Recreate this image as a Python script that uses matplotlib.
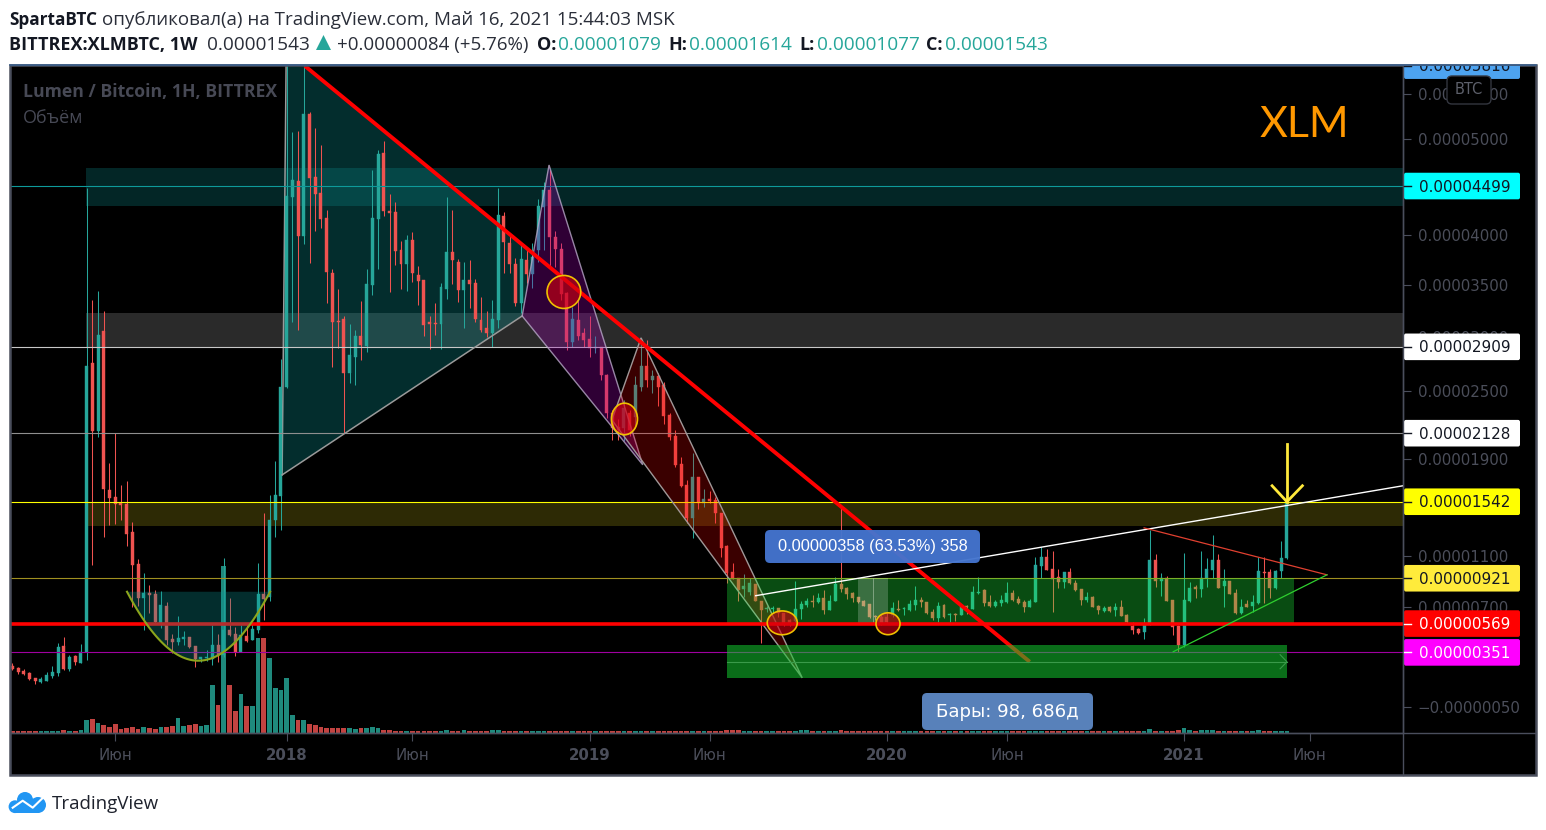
import numpy as np
import matplotlib
matplotlib.use("Agg")
import matplotlib.pyplot as plt
from matplotlib.patches import Polygon, Rectangle, Ellipse, FancyBboxPatch, Circle

# weekly candles, prices in satoshi (1e-8 BTC)
opens = [
    252, 236, 214, 199, 162, 132, 140, 177, 199, 401,
    229, 326, 274, 356, 2760, 2148, 3059, 1642, 1583, 1533,
    1525, 1294, 1036, 768, 807, 800, 575, 706, 454, 431,
    454, 469, 401, 304, 311, 304, 408, 334, 522, 491,
    356, 476, 446, 522, 800, 776, 1392, 1592, 2541, 4385,
    4552, 3985, 5274, 4594, 4427, 4168, 3617, 3152, 3172, 2668,
    2815, 3012, 2918, 3499, 4158, 4849, 4241, 4230, 3845, 3705,
    3945, 3597, 3548, 3143, 3133, 3124, 3461, 3825, 3725, 3451,
    3548, 3519, 3162, 3087, 3040, 3162, 4189, 3915, 3705, 3325,
    3745, 3607, 3845, 4282, 4458, 3975, 3855, 3422, 2955, 3162,
    3040, 2983, 2899, 2908, 2650, 2307, 2184, 2175, 2307, 2272,
    2541, 2733, 2604, 2641, 2559, 2289, 2105, 1862, 1684, 1409,
    1751, 1533, 1566, 1558, 1450, 1180, 972, 925, 839, 815,
    878, 745, 683, 683, 690, 652, 598, 590, 683, 714,
    745, 737, 768, 675, 745, 878, 846, 807, 776, 745,
    722, 629, 621, 621, 637, 683, 683, 675, 714, 753,
    737, 660, 613, 714, 637, 644, 637, 706, 683, 807,
    831, 737, 706, 730, 737, 807, 761, 737, 698, 737,
    1020, 1092, 996, 933, 893, 972, 885, 839, 753, 776,
    706, 667, 698, 675, 698, 637, 552, 530, 507, 575,
    1068, 901, 925, 753, 552, 408, 745, 854, 839, 925,
    988, 1068, 862, 901, 807, 652, 722, 706, 730, 972,
    972, 846, 980, 1079,
]
closes = [
    229, 207, 192, 155, 140, 155, 185, 207, 393, 229,
    319, 281, 356, 2733, 2148, 3021, 1650, 1575, 1525, 1517,
    1278, 1028, 768, 807, 792, 583, 714, 446, 431, 461,
    469, 393, 304, 319, 319, 408, 334, 522, 484, 356,
    484, 438, 530, 800, 761, 1392, 1600, 2541, 4395, 4562,
    3985, 5274, 4583, 4416, 4158, 3626, 3143, 3143, 2668, 2834,
    3012, 2927, 3509, 4168, 4838, 4241, 4220, 3835, 3705, 3945,
    3617, 3538, 3115, 3124, 3124, 3480, 3825, 3745, 3451, 3548,
    3509, 3172, 3068, 3040, 3172, 4199, 3925, 3705, 3325, 3755,
    3607, 3775, 4292, 4458, 3975, 3855, 3412, 2955, 3172, 3012,
    2974, 2899, 2908, 2650, 2307, 2175, 2157, 2352, 2157, 2559,
    2733, 2604, 2641, 2541, 2280, 2096, 1854, 1676, 1409, 1751,
    1533, 1566, 1550, 1450, 1164, 964, 917, 831, 862, 885,
    745, 675, 690, 690, 652, 575, 575, 683, 722, 745,
    737, 768, 675, 745, 878, 839, 800, 768, 737, 706,
    621, 621, 575, 583, 690, 675, 690, 722, 753, 737,
    652, 613, 706, 621, 644, 637, 706, 698, 815, 815,
    730, 706, 737, 753, 807, 753, 730, 698, 745, 1028,
    1092, 988, 917, 893, 972, 885, 831, 753, 776, 698,
    675, 690, 667, 698, 629, 583, 522, 499, 560, 1068,
    901, 925, 745, 545, 408, 753, 846, 839, 925, 996,
    1068, 846, 901, 800, 652, 698, 698, 737, 980, 964,
    846, 980, 1084, 1543,
]
highs = [
    274, 244, 229, 207, 162, 170, 207, 252, 423, 469,
    334, 334, 416, 4479, 3354, 3441, 3248, 1871, 2131, 1684,
    1718, 1376, 1076, 964, 870, 831, 823, 737, 491, 629,
    514, 469, 401, 319, 371, 560, 491, 1084, 768, 545,
    560, 560, 575, 1044, 1450, 1600, 1888, 2797, 5900, 5076,
    5087, 5900, 5296, 5120, 4935, 4251, 3656, 3461, 3200, 3124,
    3068, 3344, 3656, 4668, 4881, 4978, 4416, 4333, 3935, 3995,
    4026, 3685, 3548, 3200, 3325, 3519, 4385, 4251, 3755, 3725,
    3745, 3558, 3383, 3248, 3354, 4479, 4230, 4016, 3765, 3905,
    3845, 3915, 4364, 4541, 4668, 4036, 3915, 3431, 3287, 3354,
    3087, 3200, 3012, 2908, 2659, 2334, 2254, 2424, 2334, 2641,
    2993, 2974, 2696, 2668, 2586, 2307, 2157, 1923, 1726, 1957,
    1751, 1650, 1634, 1583, 1450, 1188, 1044, 925, 956, 925,
    878, 745, 706, 706, 690, 652, 606, 901, 745, 768,
    792, 807, 831, 792, 933, 1517, 854, 815, 776, 753,
    722, 637, 637, 652, 737, 753, 698, 753, 862, 776,
    737, 683, 737, 722, 652, 652, 706, 714, 862, 933,
    839, 792, 753, 792, 893, 831, 784, 753, 761, 1092,
    1172, 1156, 1140, 996, 972, 1004, 909, 839, 815, 784,
    714, 706, 706, 730, 753, 644, 583, 537, 613, 1310,
    1116, 964, 941, 753, 560, 1124, 893, 870, 1140, 1084,
    1270, 1116, 996, 901, 839, 761, 753, 792, 1092, 1092,
    996, 988, 1221, 1614,
]
lows = [
    222, 192, 185, 147, 117, 125, 140, 162, 177, 222,
    214, 259, 274, 296, 1028, 2096, 1253, 1351, 1359, 1392,
    1180, 698, 706, 522, 652, 575, 537, 408, 349, 408,
    408, 386, 244, 281, 289, 259, 281, 319, 476, 326,
    356, 431, 446, 499, 598, 745, 1253, 1310, 2532, 3143,
    3068, 3905, 3715, 4036, 4066, 3325, 2724, 2899, 2131, 2577,
    2559, 2788, 2862, 3402, 3656, 4189, 3431, 3695, 3461, 3441,
    3529, 3306, 3012, 2890, 3021, 2890, 3364, 3509, 3335, 3087,
    3277, 3143, 3049, 3002, 2908, 3087, 3617, 3617, 3296, 3229,
    3519, 3470, 3725, 3845, 3665, 3675, 3354, 2880, 2908, 2974,
    2908, 2815, 2852, 2604, 2263, 2070, 2070, 2060, 2100, 2175,
    2505, 2541, 2487, 2370, 2210, 2070, 1837, 1667, 1367, 1245,
    1483, 1500, 1533, 1367, 1092, 885, 917, 745, 776, 792,
    745, 423, 660, 652, 621, 552, 552, 575, 606, 698,
    698, 730, 644, 675, 745, 815, 761, 737, 730, 706,
    613, 598, 560, 575, 621, 667, 637, 667, 675, 698,
    644, 598, 583, 613, 583, 590, 637, 644, 683, 800,
    706, 698, 698, 706, 730, 745, 722, 660, 698, 737,
    925, 988, 660, 846, 846, 878, 823, 714, 737, 698,
    644, 660, 660, 629, 629, 575, 491, 491, 454, 560,
    854, 784, 745, 484, 356, 393, 737, 768, 776, 854,
    925, 846, 698, 800, 644, 644, 698, 660, 722, 730,
    768, 839, 925, 1077,
]
volumes = [
    2, 2, 2, 2, 2, 2, 2, 2, 2, 3, 2, 2, 3,
    13, 14, 10, 8, 6, 9, 4, 5, 6, 4, 6, 5, 4, 6, 6, 7, 15, 7, 8, 9, 7, 8,
    48, 28, 167, 48, 22, 39, 27, 27, 95, 95, 75, 45, 43, 55,
    18, 13, 13, 9, 8, 6, 5, 5, 5, 5, 5, 4, 5, 5, 6, 5,
    3, 3, 2, 2, 2,
    2, 2, 2, 2, 2, 2, 3, 2, 2, 3, 2, 2, 2, 2,
    3, 3, 2, 2, 2, 2, 2, 2, 2, 2, 2, 2, 2, 2,
    2, 2, 2, 2, 2, 2, 2, 2, 2, 2, 2, 2, 2, 2,
    2, 2, 2, 2, 2, 2, 2, 2, 2, 2, 2, 2, 2, 3,
    3, 3, 2, 2, 2, 2, 2, 2, 2, 2, 2, 2, 3, 3,
    2, 2, 2, 2, 2, 3, 2, 2, 2, 2, 2, 2, 2, 2,
    2, 2, 2, 2, 2, 2, 2, 2, 2, 2, 2, 2, 2, 2,
    2, 2, 2, 2, 2, 2, 2, 2, 2, 2, 2, 2, 2, 2,
    2, 2, 2, 2, 2, 2, 2, 2, 2, 2, 2, 2, 2, 2,
    2, 2, 2, 4, 2, 2, 2, 2, 3, 5, 3, 2, 3, 3,
    3, 2, 2, 2, 2, 2, 2, 2, 3, 2, 2, 2, 2, 2,
]

# axis labels
time_ticks = [18, 48, 70, 101, 122, 153, 174, 205, 227]
time_labels = ["Июн", "2018", "Июн", "2019", "Июн", "2020", "Июн", "2021", "Июн"]
price_ticks = [5500, 5000, 4000, 3500, 3000, 2500, 1900, 1100, 700, -50]
price_tick_labels = ["0.00005500", "0.00005000", "0.00004000", "0.00003500", "0.00003000",
                     "0.00002500", "0.00001900", "0.00001100", "0.00000700", "−0.00000050"]

# price tags on the right
tag_values = [5816, 4499, 2909, 2128, 1542, 921, 569, 351]
tag_texts = ["0.00005816", "0.00004499", "0.00002909", "0.00002128",
             "0.00001542", "0.00000921", "0.00000569", "0.00000351"]
tag_colors = ["#4da3f0", "#00ffff", "#ffffff", "#ffffff", "#ffff00", "#ffeb3b", "#ff0000", "#ff00ff"]
tag_text_colors = ["#131722", "#131722", "#131722", "#131722", "#131722", "#131722", "#ffffff", "#ffffff"]

# horizontal levels
level_values = [4499, 2909, 2128, 1542, 921, 351]
level_colors = ["#0e9a9a", "#c8c8c8", "#8f8f8f", "#ffff00", "#a09020", "#a000a0"]
support_level = 569

C_UP = "#26a69a"
C_DOWN = "#ef5350"
C_AXIS = "#4a4e5c"
C_TEXT = "#4b4e5a"
PX_PER_BAR = 5.716
X0 = 12.3
XMIN = (11 - X0) / PX_PER_BAR
XMAX = (1403 - X0) / PX_PER_BAR
W, H = 1546, 830


# the price axis of the chart is a shifted log
def forward(v):
    return np.log(np.asarray(v, dtype=float) + 10035)


def inverse(y):
    return np.exp(y) - 10035


fig = plt.figure(figsize=(W / 100, H / 100), dpi=100, facecolor="white")


def px_axes(l, t, r, b, **kw):
    return fig.add_axes([l / W, 1 - b / H, (r - l) / W, (b - t) / H], **kw)


bg = px_axes(0, 0, W, H, zorder=-1)
bg.set_xlim(0, W)
bg.set_ylim(H, 0)
bg.axis("off")
bg.add_patch(Rectangle((10, 65), 1526, 710, fc="black", ec="none"))

ax_vol = px_axes(11, 66, 1403, 733, zorder=0)
ax_vol.set_xlim(XMIN, XMAX)
ax_vol.set_ylim(0, 667)
ax_vol.axis("off")

ax = px_axes(11, 66, 1403, 733, zorder=1)
ax.patch.set_alpha(0)
ax.set_yscale("function", functions=(forward, inverse))
ax.set_xlim(XMIN, XMAX)
ax.set_ylim(-235, 5812)

bars = np.arange(len(opens))
o = np.array(opens, dtype=float)
c = np.array(closes, dtype=float)
hi = np.array(highs, dtype=float)
lo = np.array(lows, dtype=float)
colors = [C_UP if c[i] >= o[i] else C_DOWN for i in bars]

# volume
vol_colors = ["#1f8a7d" if col == C_UP else "#c24341" for col in colors]
ax_vol.bar(bars, volumes, width=0.82, color=vol_colors, linewidth=0)

# zones behind the candles
ZONE_START = 12.9
ax.fill_between([ZONE_START, XMAX], 4292, 4689, color="#0a8080", alpha=0.3, lw=0, zorder=1)
ax.fill_between([ZONE_START, XMAX], 2909, 3229, color="white", alpha=0.17, lw=0, zorder=1)
ax.fill_between([ZONE_START, XMAX], 1343, 1542, color="#ffeb1e", alpha=0.18, lw=0, zorder=1)

# big teal triangle
ax.add_patch(Polygon([(47.2, 1768), (48.06, 5812), (51.2, 5812), (91.1, 3795), (89.2, 3200)],
                     closed=True, fc="#0a9696", alpha=0.3, ec="none", zorder=1))
ax.plot([47.2, 89.2], [1768, 3200], color="#9a9a9a", lw=1.1, zorder=3)
ax.plot([47.2, 47.9], [1768, 5812], color="#9a9a9a", lw=1.1, zorder=1.5)

# candles
ax.vlines(bars, lo, hi, colors=colors, linewidth=0.75, zorder=2)
ax.bar(bars, c - o, bottom=o, width=0.52, color=colors, edgecolor=colors, linewidth=0.3, zorder=2.1)

# levels
for val, col in zip(level_values, level_colors):
    ax.plot([XMIN, XMAX], [val, val], color=col, lw=0.8, zorder=2.5)
ax.plot([XMIN, XMAX], [support_level, support_level], color="#ff0000", lw=2.6, zorder=3.5)

# purple and dark red triangles over the candles
ax.add_patch(Polygon([(93.9, 4721), (89.2, 3200), (110.3, 1854)], closed=True, fc="#9c00b0", alpha=0.3,
                     ec="none", zorder=3))
ax.add_patch(Polygon([(93.9, 4721), (89.2, 3200), (110.3, 1854)], closed=True, fill=False, ec="#b8a8c8",
                     lw=1.0, alpha=0.8, zorder=3))
ax.add_patch(Polygon([(110.0, 2993), (104.9, 2245), (138.2, 162)], closed=True, fc="#ff0000", alpha=0.23,
                     ec="none", zorder=3))
ax.add_patch(Polygon([(110.0, 2993), (104.9, 2245), (138.2, 162)], closed=True, fill=False, ec="#a09898",
                     lw=1.0, zorder=3))

# green zone and selection
ax.fill_between([125.0, 224.2], 569, 921, color="#21fd3c", alpha=0.3, lw=0, zorder=3)
ax.fill_between([148, 153.2], 569, 921, color="white", alpha=0.2, lw=0, zorder=3.1)
ax.plot([150.6, 150.6], [569, 921], color="#9ab89a", lw=0.5, zorder=3.1)

# trend lines
ax.plot([51.2, 178], [5812, 281], color="#ff0000", lw=2.8, solid_capstyle="butt", zorder=3.5)
ax.plot([130.05, XMAX], [784, 1676], color="white", lw=1.0, zorder=3.5)
ax.plot([198.0, 230.0], [1326, 948], color="#e04030", lw=0.9, zorder=3.5)
ax.plot([203.1, 230.0], [356, 948], color="#2fd02f", lw=0.9, zorder=3.5)

# rounded bottom
t = np.linspace(0, 1, 60)
cup_x = (1 - t) ** 2 * 20.07 + 2 * t * (1 - t) * 32.5 + t ** 2 * 45.1
cup_y = (1 - t) ** 2 * 815 + 2 * t * (1 - t) * (-237) + t ** 2 * 815
ax.fill(cup_x, cup_y, color="#0a9696", alpha=0.3, lw=0, zorder=3.6)
ax.plot(cup_x, cup_y, color="#8ca51c", lw=1.5, zorder=3.6)

# touch points
for cx, cy, ww, hh in [(96.5, 3432, 5.9, 320), (107.1, 2254, 4.55, 280),
                       (134.7, 575, 5.25, 182), (153.2, 568, 4.2, 167)]:
    ax.add_patch(Ellipse((cx, cy), ww, hh, fc="#d00010", alpha=0.62, ec="none", zorder=3.7))
    ax.add_patch(Ellipse((cx, cy), ww, hh, fill=False, ec="#f0c000", lw=1.2, zorder=3.7))

# bright green box with the bars ruler
ax.fill_between([125.0, 223.0], 162, 408, color="#14c82f", alpha=0.55, lw=0, zorder=3.8)
ax.plot([125.0, 223.0], [281, 281], color="#3a9a4a", lw=0.8, zorder=3.9)
ax.plot([221.8, 223.0, 221.8], [334, 281, 229], color="#3a9a4a", lw=0.8, zorder=3.9)

# yellow arrow
ax.plot([223, 223], [2035, 1542], color="#ffe93b", lw=2.0, zorder=4)
ax.plot([220.4, 223, 225.7], [1676, 1542, 1676], color="#ffe93b", lw=2.0, zorder=4)

# axes
for s in ["left", "top"]:
    ax.spines[s].set_visible(False)
for s in ["right", "bottom"]:
    ax.spines[s].set_color(C_AXIS)
    ax.spines[s].set_linewidth(1.0)
ax.yaxis.tick_right()
ax.set_yticks(price_ticks, price_tick_labels)
ax.minorticks_off()
ax.tick_params(axis="y", length=6, width=0.8, color=C_AXIS, labelcolor=C_TEXT, labelsize=10.8, pad=4.5)
ax.set_xticks(time_ticks, time_labels)
ax.tick_params(axis="x", length=6, width=0.8, color=C_AXIS, labelcolor=C_TEXT, labelsize=10.8, pad=5)
for lab in ax.get_xticklabels():
    if lab.get_text().isdigit():
        lab.set_fontweight("bold")

# everything else is placed in pixels
fig.canvas.draw()
top = px_axes(0, 0, W, H, zorder=5)
top.set_xlim(0, W)
top.set_ylim(H, 0)
top.axis("off")
top.patch.set_alpha(0)
top.plot([11, 1535], [733, 733], color=C_AXIS, lw=1.0)
top.plot([1403, 1403], [66, 775], color=C_AXIS, lw=1.0)
top.add_patch(Rectangle((10, 65), 1526, 710, fill=False, ec=C_AXIS, lw=1.8))
top.plot([10, 1536], [65, 65], color="#3a5f8c", lw=1.2)

pane = Rectangle((1403, 66), 132, 667, transform=top.transData)
for val, txt, fc, tc in zip(tag_values, tag_texts, tag_colors, tag_text_colors):
    ypx = H - ax.transData.transform((0, val))[1]
    box = FancyBboxPatch((1404, ypx - 13.3), 116, 26.6, boxstyle="round,pad=0,rounding_size=2", fc=fc, ec="none")
    top.add_patch(box)
    box.set_clip_path(pane)
    tick = top.plot([1404, 1411], [ypx, ypx], color=tc, lw=1.0)[0]
    tick.set_clip_path(pane)
    label = top.text(1419, ypx + 1, txt, color=tc, fontsize=10.9, va="center", ha="left", clip_on=True)
    label.set_clip_path(pane)

# currency badge
top.add_patch(FancyBboxPatch((1447, 76), 44, 28, boxstyle="round,pad=0,rounding_size=5", fc="black", ec="#33363f", lw=1.0))
top.text(1469, 89, "BTC", color="#5d606b", fontsize=10.5, ha="center", va="center")

# drawn labels
top.add_patch(FancyBboxPatch((765, 530), 215, 33, boxstyle="round,pad=0,rounding_size=5", fc="#4475cf", ec="none", alpha=0.96))
top.text(873, 546, "0.00000358 (63.53%) 358", color="white", fontsize=11.8, family="Liberation Sans", ha="center", va="center")
top.add_patch(FancyBboxPatch((922, 693), 171, 37, boxstyle="round,pad=0,rounding_size=5", fc="#5b85bf", ec="none", alpha=0.98))
top.text(1007, 712, "Бары: 98, 686д", color="white", fontsize=13.1, ha="center", va="center")

top.text(23, 92, "Lumen / Bitcoin, 1H, BITTREX", color="#474955", fontsize=12.7, family="Open Sans", fontweight="bold", va="center")
top.text(23, 118, "Объём", color="#474955", fontsize=13, family="Open Sans", va="center")
top.text(1304, 125, "XLM", color="#ff9800", fontsize=31, family="Lato", ha="center", va="center")

# header
HF = "Open Sans"
top.text(9, 20, "SpartaBTC", color="#131722", fontsize=12.4, family=HF, fontweight="bold", va="center")
top.text(102, 20, "опубликовал(а) на TradingView.com, Май 16, 2021 15:44:03 MSK", color="#2a2e39", fontsize=13.5, family=HF, va="center")
top.text(9, 45, "BITTREX:XLMBTC, 1W", color="#131722", fontsize=13, family=HF, fontweight="bold", va="center")
top.text(207, 45, "0.00001543", color="#2a2e39", fontsize=13.7, family=HF, va="center")
top.add_patch(Polygon([(316, 50), (331, 50), (323.5, 35)], closed=True, fc=C_UP, ec="none"))
top.text(337, 45, "+0.00000084 (+5.76%)", color="#2a2e39", fontsize=13.5, family=HF, va="center")
for x_lab, lab, x_val, val in [(537, "O:", 558, "0.00001079"), (668, "H:", 689, "0.00001614"),
                               (799, "L:", 817, "0.00001077"), (926, "C:", 945, "0.00001543")]:
    top.text(x_lab, 45, lab, color="#131722", fontsize=13, family=HF, fontweight="bold", va="center")
    top.text(x_val, 45, val, color=C_UP, fontsize=13.7, family=HF, va="center")

# logo
C_LOGO = "#2196f3"
for cx, cy, r in [(15, 806.7, 6.4), (25, 800, 8), (38, 805, 8)]:
    top.add_patch(Circle((cx, cy), r, fc=C_LOGO, ec="none"))
top.add_patch(Rectangle((15, 801), 24, 12, fc=C_LOGO, ec="none"))
top.plot([12.7, 22.7, 32.7, 42.7], [807.7, 800.7, 807.7, 798], color="white", lw=1.5)
top.text(52, 804, "TradingView", color="#1e222d", fontsize=13.5, family="Open Sans", va="center")

fig.savefig("out.png", dpi=100, facecolor="white")
